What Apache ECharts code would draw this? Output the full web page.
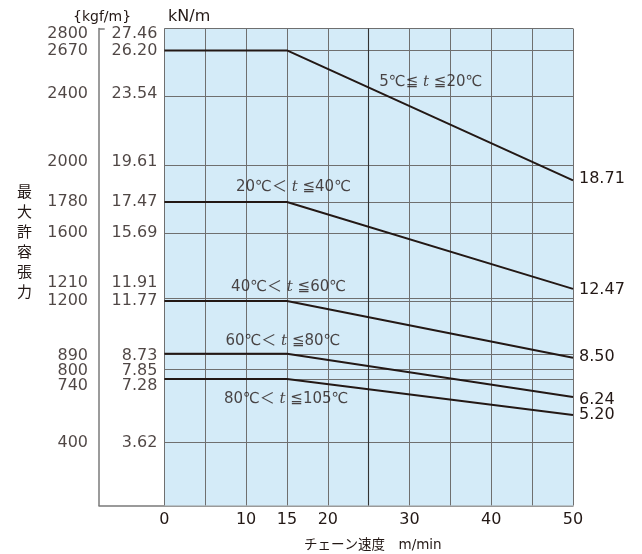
<!DOCTYPE html>
<html><head><meta charset="utf-8">
<script src="https://cdn.jsdelivr.net/npm/echarts@6/dist/echarts.min.js"></script>
<style>html,body{margin:0;padding:0;background:#fff}#c{width:642px;height:554px}</style>
</head><body><div id="c"></div>
<script>
// ---- data ----
const speedTicks = [0, 10, 15, 20, 30, 40, 50];
const gridSpeeds = [0, 5, 10, 15, 20, 25, 30, 35, 40, 45, 50];
const kgfTicks = [2800, 2670, 2400, 2000, 1780, 1600, 1210, 1200, 890, 800, 740, 400];
const knTicks = [27.46, 26.20, 23.54, 19.61, 17.47, 15.69, 11.91, 11.77, 8.73, 7.85, 7.28, 3.62];
const knTickLabels = ['27.46', '26.20', '23.54', '19.61', '17.47', '15.69', '11.91', '11.77', '8.73', '7.85', '7.28', '3.62'];
const rangeLow = ['5℃≦', '20℃＜', '40℃＜', '60℃＜', '80℃＜'];
const rangeHigh = ['≦20℃', '≦40℃', '≦60℃', '≦80℃', '≦105℃'];
const breakSpeed = 15;
const maxSpeed = 50;
const flatValues = [26.20, 17.47, 11.77, 8.73, 7.28];
const endValues = [18.71, 12.47, 8.50, 6.24, 5.20];
const endLabels = ['18.71', '12.47', '8.50', '6.24', '5.20'];

// ---- layout / style ----
const INK = '#231815';
const GRIDC = '#6f6f6f';
const FONT = 'DejaVu Sans, Noto Sans CJK JP, sans-serif';
const XMIN = -8;
const YMAX = 27.46;
const tickNudge = [5, 0, -3, -3, 0, 0, -16, 0, 2, 2, 7, 0];
const endNudge = [-2, 1, -1, 3, 0];
const rangeLabelAt = [[32.6, 24.4], [15.8, 18.3], [15.2, 12.55], [14.5, 9.45], [14.9, 6.1]];

const chart = echarts.init(document.getElementById('c'), null, {renderer: 'canvas'});

const curveSeries = flatValues.map((v, i) => ({
  type: 'line', name: 'c' + i, symbol: 'none', silent: true,
  lineStyle: {color: INK, width: 2},
  data: [[0, v], [breakSpeed, v], [maxSpeed, endValues[i]]],
  endLabel: {show: true, formatter: endLabels[i], distance: 6, offset: [0, endNudge[i]],
    color: INK, fontSize: 16, fontFamily: FONT},
  z: 5
}));

const hLines = knTicks.map(v => [{coord: [0, v]}, {coord: [maxSpeed, v]}]);
const vLines = gridSpeeds.filter(s => s !== 25).map(s => ({xAxis: s}));

const option = {
  animation: false,
  backgroundColor: '#fff',
  textStyle: {fontFamily: FONT, color: INK},
  title: [
    {text: '{kgf/m}', left: 68, top: 5, textStyle: {fontSize: 14, fontWeight: 'normal', color: INK, fontFamily: FONT}},
    {text: 'kN/m', left: 163, top: 4, textStyle: {fontSize: 16, fontWeight: 'normal', color: INK, fontFamily: FONT}},
    {text: '最\n大\n許\n容\n張\n力', left: 12, top: 176, textStyle: {fontSize: 15, lineHeight: 20, fontWeight: 'normal', color: INK, fontFamily: 'Noto Sans CJK JP'}},
    {text: 'チェーン速度　m/min', left: 299, top: 534, textStyle: {fontSize: 13.5, fontWeight: 'normal', color: INK, fontFamily: FONT}}
  ],
  grid: {left: 99, right: 69, top: 28.5, bottom: 48.6, containLabel: false},
  xAxis: {
    type: 'value', min: XMIN, max: maxSpeed,
    axisLine: {show: true, onZero: false, lineStyle: {color: '#7a7a7a', width: 1.5}},
    axisTick: {show: false},
    splitLine: {show: false},
    axisLabel: {customValues: speedTicks, fontSize: 16, color: INK, margin: 6, fontFamily: FONT}
  },
  yAxis: {
    type: 'value', min: 0, max: YMAX,
    axisLine: {show: true, onZero: false, lineStyle: {color: '#7a7a7a', width: 1.5}},
    axisTick: {show: false}, axisLabel: {show: false}, splitLine: {show: false}
  },
  series: [
    {
      type: 'line', data: [], silent: true,
      markArea: {silent: true, itemStyle: {color: '#d4ebf8'}, data: [[{coord: [0, 0]}, {coord: [maxSpeed, YMAX]}]]},
      markLine: {silent: true, symbol: 'none', label: {show: false},
        lineStyle: {color: GRIDC, width: 1, type: 'solid'},
        data: vLines.concat(hLines)},
      z: 1
    },
    {
      type: 'line', data: [], silent: true,
      markLine: {silent: true, symbol: 'none', label: {show: false},
        lineStyle: {color: '#333', width: 1.1, type: 'solid'},
        data: [{xAxis: 25}]},
      z: 2
    },
    {
      type: 'line', data: [], silent: true,
      markLine: {silent: true, symbol: 'none', label: {show: false},
        lineStyle: {color: '#7a7a7a', width: 1.5, type: 'solid'},
        data: [[{coord: [XMIN, YMAX]}, {coord: [XMIN + 0.7, YMAX]}]]},
      z: 2
    },
    ...curveSeries,
    {
      type: 'scatter', symbolSize: 0, silent: true, clip: false,
      data: knTicks.map((v, i) => ({value: [XMIN, v], label: {formatter: String(kgfTicks[i]), offset: [0, tickNudge[i]]}})),
      label: {show: true, position: 'left', distance: 11, color: INK, fontSize: 16, fontFamily: FONT},
      z: 6
    },
    {
      type: 'scatter', symbolSize: 0, silent: true, clip: false,
      data: knTicks.map((v, i) => ({value: [0, v], label: {formatter: knTickLabels[i], offset: [0, tickNudge[i]]}})),
      label: {show: true, position: 'left', distance: 7, color: INK, fontSize: 16, fontFamily: FONT},
      z: 6
    },
    {
      type: 'scatter', symbolSize: 0, silent: true, clip: false,
      data: rangeLabelAt.map((p, i) => ({value: p, label: {formatter: '{a|' + rangeLow[i] + ' }{i|t}{a| ' + rangeHigh[i] + '}'}})),
      label: {show: true, position: 'inside', color: INK,
        rich: {
          a: {fontSize: 15, fontFamily: FONT, color: INK},
          i: {fontSize: 15, fontFamily: 'DejaVu Serif, serif', fontStyle: 'italic', color: INK}
        }},
      z: 7
    }
  ]
};
chart.setOption(option);
</script>
</body></html>
